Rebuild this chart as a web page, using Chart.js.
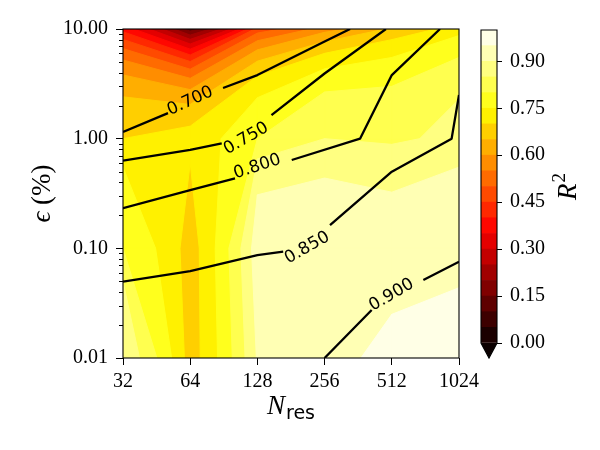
<!DOCTYPE html>
<html><head><meta charset="utf-8">
<script src="https://cdn.jsdelivr.net/npm/chart.js@4/dist/chart.umd.min.js"></script>
<style>
body{margin:0;background:#fff}
#wrap{position:relative;width:600px;height:450px;background:#fff}
canvas{position:absolute;top:0}
</style></head>
<body><div id="wrap">
<canvas id="main" width="600" height="450" style="left:0"></canvas>
<canvas id="cbar" width="130" height="450" style="left:470px"></canvas>
</div>
<script>
// ---------- data ----------
const nRes = [32, 64, 128, 256, 512, 1024];
const epsRows = [0.01, 0.1, 1, 10];
// filled-contour field R^2, one row per epsRows entry, one column per nRes entry
const r2Eps001 = [0.89, 0.675, 0.905, 0.945, 0.956, 0.962];
const r2Eps01  = [0.80, 0.675, 0.93, 0.93, 0.92, 0.93];
const r2Eps1   = [0.70, 0.72, 0.80, 0.85, 0.84, 0.87];
const r2Eps10  = [0.38, 0.12, 0.47, 0.58, 0.66, 0.73];
const fillLevels = [0,0.05,0.1,0.15,0.2,0.25,0.3,0.35,0.4,0.45,0.5,0.55,0.6,0.65,0.7,0.75,0.8,0.85,0.9,0.95,1.0];
// contour lines (N_res, eps %) ; null = gap for inline label
const lineLevels = ['0.700','0.750','0.800','0.850','0.900'];
const line070 = [[32,1.15],[50.9,1.71],null,[89.8,2.90],[128,3.80],[256,7.7],[333,10]];
const line075 = [[32,0.63],[64,0.79],[88.6,0.907],null,[148,1.64],[256,3.93],[482,10]];
const line080 = [[32,0.232],[64,0.340],[101.6,0.435],null,[182.4,0.639],[369,1.0],[512,3.8],[842,10]];
const line085 = [[32,0.0497],[64,0.0621],[128,0.0869],[167,0.0932],null,[270.7,0.163],[512,0.50],[949,1.0],[1024,2.5]];
const line090 = [[256,0.01],[416,0.0274],null,[709,0.0514],[1024,0.0755]];
const labelAt = [[64,2.2],[114,1.0],[128,0.555],[214,0.101],[511,0.0375]];
const yTicks = [0.01, 0.1, 1, 10];
const yTickLabels = ['0.01','0.10','1.00','10.00'];
const cbTicks = [0, 0.15, 0.30, 0.45, 0.60, 0.75, 0.90];

// ---------- helpers ----------
const grid = [r2Eps001, r2Eps01, r2Eps1, r2Eps10];
const lines = [line070, line075, line080, line085, line090];
function hot(v){
  const a=0.365079, b=0.746032;
  const r = v<a ? 0.0416 + v*(1-0.0416)/a : 1;
  const g = v<a ? 0 : Math.min(1,(v-a)/(b-a));
  const bl = v<b ? 0 : Math.min(1,(v-b)/(1-b));
  return `rgb(${Math.round(r*255)},${Math.round(g*255)},${Math.round(bl*255)})`;
}
const SERIF = '"Liberation Serif","DejaVu Serif",serif';
const SANS = '"DejaVu Sans","Liberation Sans",sans-serif';

function cellPoly(i,j,lo){
  const c=[[i,j],[i+1,j],[i+1,j+1],[i,j+1]];
  const pts=[];
  for(let k=0;k<4;k++){
    const [ia,ja]=c[k], [ib,jb]=c[(k+1)%4];
    const va=grid[ja][ia], vb=grid[jb][ib];
    if(va>=lo) pts.push([nRes[ia],epsRows[ja]]);
    if((va>=lo)!==(vb>=lo)){
      const t=(lo-va)/(vb-va);
      pts.push([nRes[ia]+t*(nRes[ib]-nRes[ia]), epsRows[ja]+t*(epsRows[jb]-epsRows[ja])]);
    }
  }
  return pts;
}

const fillPlugin = {
  id:'fill',
  beforeDatasetsDraw(chart){
    const {ctx, chartArea:a, scales:{x,y}} = chart;
    ctx.save();
    ctx.beginPath(); ctx.rect(a.left,a.top,a.right-a.left,a.bottom-a.top); ctx.clip();
    for(let k=0;k<fillLevels.length-1;k++){
      const lo=fillLevels[k], col=hot((fillLevels[k]+fillLevels[k+1])/2);
      ctx.fillStyle=col; ctx.strokeStyle=col; ctx.lineWidth=1; ctx.lineJoin='round';
      for(let j=0;j<epsRows.length-1;j++) for(let i=0;i<nRes.length-1;i++){
        const p=cellPoly(i,j,lo);
        if(p.length<3) continue;
        ctx.beginPath();
        p.forEach((q,n)=>{const px=x.getPixelForValue(q[0]), py=y.getPixelForValue(q[1]); n?ctx.lineTo(px,py):ctx.moveTo(px,py);});
        ctx.closePath(); ctx.fill(); ctx.stroke();
      }
    }
    ctx.restore();
  },
  afterDatasetsDraw(chart){
    const {ctx, chartArea:a, scales:{x,y}} = chart;
    ctx.save();
    // contour labels
    ctx.fillStyle='#000'; ctx.font='17px '+SANS; ctx.textAlign='center'; ctx.textBaseline='middle';
    lines.forEach((ln,idx)=>{
      const g=ln.indexOf(null); const p1=ln[g-1], p2=ln[g+1];
      const x1=x.getPixelForValue(p1[0]), y1=y.getPixelForValue(p1[1]);
      const x2=x.getPixelForValue(p2[0]), y2=y.getPixelForValue(p2[1]);
      const ang=Math.atan2(y2-y1,x2-x1);
      const cx=x.getPixelForValue(labelAt[idx][0]), cy=y.getPixelForValue(labelAt[idx][1]);
      ctx.save(); ctx.translate(cx,cy); ctx.rotate(ang); ctx.fillText(lineLevels[idx],0,0); ctx.restore();
    });
    // frame
    ctx.strokeStyle='#000'; ctx.lineWidth=1.1;
    ctx.strokeRect(a.left,a.top,a.right-a.left,a.bottom-a.top);
    // minor y ticks
    ctx.lineWidth=1;
    for(let d=-2; d<1; d++) for(let m=2;m<10;m++){
      const py=Math.round(y.getPixelForValue(m*Math.pow(10,d)))+0.5;
      ctx.beginPath(); ctx.moveTo(a.left-4,py); ctx.lineTo(a.left,py); ctx.stroke();
    }
    ctx.restore();
  },
  afterDraw(chart){
    const {ctx, chartArea:a} = chart;
    ctx.save(); ctx.fillStyle='#000'; ctx.textBaseline='alphabetic';
    // x title: N_res
    ctx.font='italic 27px '+SERIF; const wN=ctx.measureText('N').width;
    ctx.font='19px '+SANS; const wr=ctx.measureText('res').width;
    const cx=(a.left+a.right)/2, x0=cx-(wN+wr+1)/2, base=414;
    ctx.font='italic 27px '+SERIF; ctx.textAlign='left'; ctx.fillText('N',x0,base);
    ctx.font='19px '+SANS; ctx.fillText('res',x0+wN+1,base+5);
    // y title
    ctx.save(); ctx.translate(50,(a.top+a.bottom)/2); ctx.rotate(-Math.PI/2);
    ctx.font='italic 27px '+SERIF; const we=ctx.measureText('\u03F5').width;
    ctx.font='27px '+SERIF; const wp=ctx.measureText(' (%)').width;
    const s=-(we+wp)/2;
    ctx.font='italic 27px '+SERIF; ctx.fillText('\u03F5',s,0);
    ctx.font='27px '+SERIF; ctx.fillText(' (%)',s+we,0);
    ctx.restore();
    ctx.restore();
  }
};

Chart.defaults.font.family = SERIF;
Chart.defaults.color = '#000';

new Chart(document.getElementById('main'), {
  type:'scatter',
  data:{datasets: lines.map((ln,idx)=>({
    label: lineLevels[idx],
    data: ln.map((p,n)=> p ? {x:p[0],y:p[1]} : {x:ln[n-1][0], y:null}),
    showLine:true, spanGaps:false, borderColor:'#000', borderWidth:2.3,
    pointRadius:0, tension:0, borderJoinStyle:'round', borderCapStyle:'butt'
  }))},
  options:{
    responsive:false, animation:false, devicePixelRatio:1,
    layout:{padding:{left:0, top:29, right:141, bottom:0}},
    plugins:{legend:{display:false}, tooltip:{enabled:false}},
    scales:{
      x:{type:'logarithmic', min:32, max:1024,
        afterBuildTicks:s=>{s.ticks=nRes.map(v=>({value:v}));},
        afterFit:s=>{s.height=92;},
        ticks:{callback:v=>String(v), font:{family:SERIF,size:20}, color:'#000', padding:5, maxRotation:0, autoSkip:false},
        grid:{drawOnChartArea:false, drawTicks:true, tickLength:7, color:'#000', lineWidth:1},
        border:{display:false}},
      y:{type:'logarithmic', min:0.01, max:10,
        afterBuildTicks:s=>{s.ticks=yTicks.map(v=>({value:v}));},
        afterFit:s=>{s.width=123;},
        ticks:{callback:v=>yTickLabels[yTicks.findIndex(t=>Math.abs(t-v)<1e-9)], font:{family:SERIF,size:20}, color:'#000', padding:8, autoSkip:false},
        grid:{drawOnChartArea:false, drawTicks:true, tickLength:7, color:'#000', lineWidth:1},
        border:{display:false}}
    }
  },
  plugins:[fillPlugin]
});

// ---------- colorbar ----------
const cbPlugin = {
  id:'cbextra',
  afterDatasetsDraw(chart){
    const {ctx, chartArea:a} = chart;
    const mid=(a.left+a.right)/2;
    ctx.save();
    ctx.beginPath(); ctx.moveTo(a.left,a.bottom); ctx.lineTo(a.right,a.bottom); ctx.lineTo(mid,a.bottom+15); ctx.closePath();
    ctx.fillStyle=hot(0); ctx.fill();
    ctx.beginPath();
    ctx.moveTo(a.left,a.top); ctx.lineTo(a.right,a.top); ctx.lineTo(a.right,a.bottom); ctx.lineTo(mid,a.bottom+15); ctx.lineTo(a.left,a.bottom); ctx.closePath();
    ctx.strokeStyle='#000'; ctx.lineWidth=1.1; ctx.stroke();
    ctx.restore();
  },
  afterDraw(chart){
    const {ctx, chartArea:a} = chart;
    ctx.save(); ctx.fillStyle='#000'; ctx.textBaseline='alphabetic'; ctx.textAlign='left';
    ctx.translate(106,(a.top+a.bottom)/2); ctx.rotate(-Math.PI/2);
    ctx.font='italic 27px '+SERIF; const wR=ctx.measureText('R').width;
    ctx.font='19px '+SERIF; const w2=ctx.measureText('2').width;
    const s=-(wR+w2+1)/2;
    ctx.font='italic 27px '+SERIF; ctx.fillText('R',s,0);
    ctx.font='19px '+SERIF; ctx.fillText('2',s+wR+1,-11);
    ctx.restore();
  }
};
new Chart(document.getElementById('cbar'), {
  type:'bar',
  data:{labels:['R2'], datasets: fillLevels.slice(0,-1).map((lo,k)=>({
    data:[[lo, fillLevels[k+1]]], backgroundColor:hot((lo+fillLevels[k+1])/2),
    borderWidth:0, grouped:false, barPercentage:1, categoryPercentage:1
  }))},
  options:{
    responsive:false, animation:false, devicePixelRatio:1,
    layout:{padding:{left:11, top:30, bottom:107, right:0}},
    plugins:{legend:{display:false}, tooltip:{enabled:false}},
    scales:{
      x:{display:false},
      y:{position:'right', min:0, max:1,
        afterBuildTicks:s=>{s.ticks=cbTicks.map(v=>({value:v}));},
        afterFit:s=>{s.width=103;},
        ticks:{callback:v=>v.toFixed(2), font:{family:SERIF,size:20}, color:'#000', padding:8, autoSkip:false},
        grid:{drawOnChartArea:false, drawTicks:true, tickLength:5, color:'#000', lineWidth:1},
        border:{display:false}}
    }
  },
  plugins:[cbPlugin]
});
</script>
</body></html>
